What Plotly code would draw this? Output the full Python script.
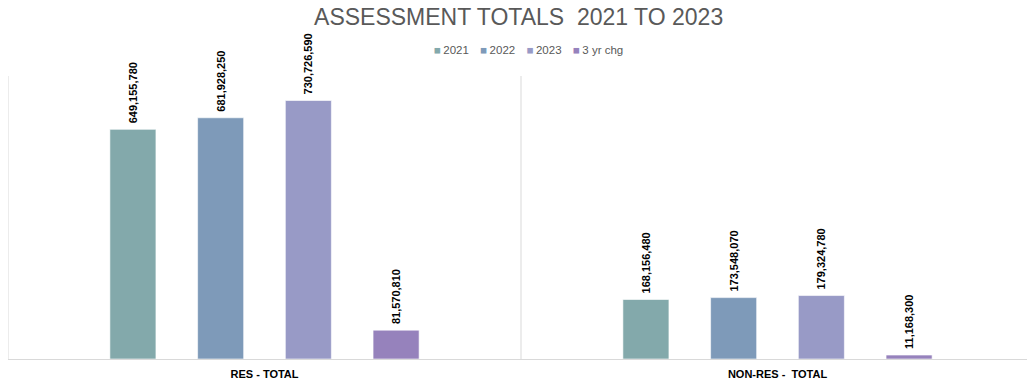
import plotly.graph_objects as go

# Assessment totals by category
categories = ["RES - TOTAL", "NON-RES -\u00a0 TOTAL"]
series_names = ["2021", "2022", "2023", "3 yr chg"]
values_2021 = [649155780, 168156480]
values_2022 = [681928250, 173548070]
values_2023 = [730726590, 179324780]
values_chg = [81570810, 11168300]

colors = ["#83A9AB", "#7E9AB9", "#989AC6", "#9682BC"]
FONT = "Liberation Sans, Arial, sans-serif"

fig = go.Figure()
for name, vals, col in zip(series_names,
                           [values_2021, values_2022, values_2023, values_chg],
                           colors):
    fig.add_trace(go.Bar(
        name=name,
        x=categories,
        y=vals,
        marker=dict(color=col, line=dict(color="rgba(255,255,255,0.6)", width=1)),
        text=[f"\u00a0{v:,}" for v in vals],
        textposition="outside",
        textangle=-90,
        constraintext="none",
        textfont=dict(family=FONT, size=11, color="#000000", weight="bold"),
        cliponaxis=False,
        showlegend=False,
    ))

# light dividers between the category bands
for xpos in [-0.5, 0.5]:
    fig.add_shape(type="line", xref="x", yref="paper", x0=xpos, x1=xpos,
                  y0=0, y1=1, line=dict(color="#D9D9D9", width=1))

# compact legend row: coloured squares followed by series names
legend_html = "\u2003".join(
    f"<span style='color:{c}'>\u25A0</span>\u2009{n}" for n, c in zip(series_names, colors)
)
fig.add_annotation(text=legend_html, xref="paper", yref="paper",
                   x=0.511, xanchor="center", y=1.092, yanchor="middle",
                   showarrow=False,
                   font=dict(family=FONT, size=11.5, color="#595959"))

fig.update_layout(
    width=1027, height=383,
    margin=dict(l=8, r=0, t=76, b=24),
    paper_bgcolor="white", plot_bgcolor="white",
    barmode="group", bargap=0.316, bargroupgap=0.475,
    title=dict(text="ASSESSMENT TOTALS\u00a0 2021 TO 2023",
               x=0.505, xanchor="center", y=0.955, yanchor="middle",
               font=dict(family=FONT, size=23, color="#595959")),
    showlegend=False,
)
fig.update_xaxes(range=[-0.5, 1.5 - 7 / 513], showline=True, linecolor="#D9D9D9",
                 linewidth=1, showgrid=False, ticks="", ticklabelstandoff=5,
                 tickfont=dict(family="Liberation Sans Narrow, Arial Narrow, Liberation Sans, sans-serif",
                               size=11, color="#000000", weight="bold"))
fig.update_yaxes(range=[0, 800000000], showticklabels=False, showgrid=False,
                 zeroline=False, showline=False)

fig.write_html("out.html")
